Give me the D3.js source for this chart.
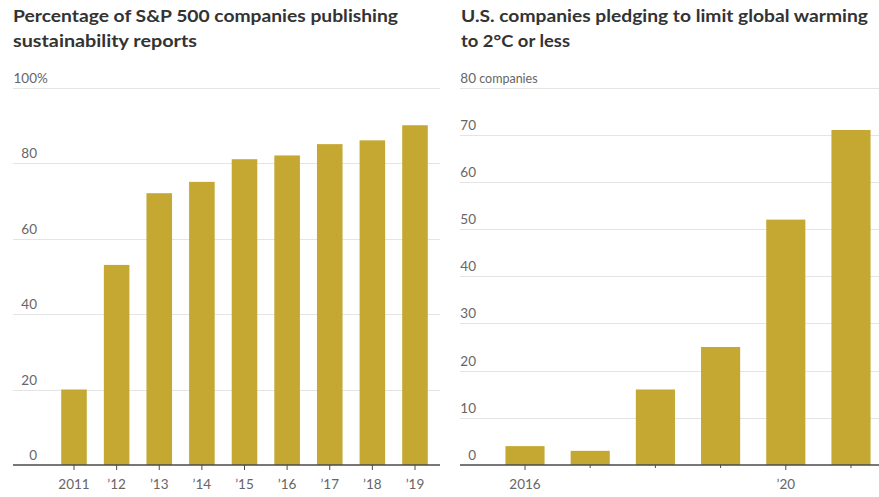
<!DOCTYPE html>
<html>
<head>
<meta charset="utf-8">
<script src="https://cdn.jsdelivr.net/npm/d3@7"></script>
<style>
  html, body { margin: 0; padding: 0; background: #fff; }
  svg { display: block; }
  .title { font-family: Lato, "Open Sans", sans-serif; font-weight: 700; font-size: 17px; fill: #333; }
  .tick-label { font-family: Lato, "Open Sans", sans-serif; font-size: 13.5px; fill: #666; white-space: pre; }
</style>
</head>
<body>
<svg id="chart" width="879" height="497"></svg>
<script>
// Left panel: share of S&P 500 companies publishing sustainability reports
const spYears = ["2011", "’12", "’13", "’14", "’15", "’16", "’17", "’18", "’19"];
const spShare = [20, 53, 72, 75, 81, 82, 85, 86, 90];
const spTicks = [0, 20, 40, 60, 80, 100];
const spTopSuffix = "%";

// Right panel: U.S. companies pledging to limit warming to 2°C or less
const pledgeYears = ["2016", "2017", "2018", "2019", "’20", "2021"];
const pledgeLabelled = ["2016", "’20"];
const pledgeCount = [4, 3, 16, 25, 52, 71];
const pledgeTicks = [0, 10, 20, 30, 40, 50, 60, 70, 80];
const pledgeTopSuffix = "\u00a0companies";

const barColor = "#c4a832";
const gridColor = "#e4e4e4";
const axisColor = "#4a4a4a";

const svg = d3.select("#chart");

function panel(cfg) {
  const g = svg.append("g");

  // Title lines
  cfg.title.forEach((line, i) => {
    g.append("text")
      .attr("class", "title")
      .attr("x", cfg.titleX)
      .attr("y", 22 + i * 25)
      .attr("textLength", line.w)
      .attr("lengthAdjust", "spacingAndGlyphs")
      .text(line.t);
  });

  const y = d3.scaleLinear().domain([0, cfg.yMax]).range([465, 87.5]);
  const x = d3.scaleBand()
    .domain(cfg.cats)
    .range(cfg.xRange)
    .paddingInner(0.4)
    .paddingOuter(0.2);

  // Horizontal gridlines (excluding baseline)
  g.append("g").selectAll("line")
    .data(cfg.ticks.filter(d => d > 0))
    .join("line")
    .attr("x1", cfg.gridX0).attr("x2", cfg.gridX1)
    .attr("y1", d => Math.round(y(d)) + 0.5)
    .attr("y2", d => Math.round(y(d)) + 0.5)
    .attr("stroke", gridColor)
    .attr("stroke-width", 1);

  // Y labels sit just above their gridlines
  const lab = g.append("g");
  lab.selectAll("text.num")
    .data(cfg.ticks)
    .join("text")
    .attr("class", "tick-label num")
    .attr("x", cfg.labelRight)
    .attr("y", d => y(d) - 5)
    .attr("text-anchor", "end")
    .text(d => d);
  lab.append("text")
    .attr("class", "tick-label")
    .attr("x", cfg.labelRight)
    .attr("y", y(cfg.yMax) - 5)
    .attr("text-anchor", "start")
    .style("font-size", cfg.suffixSize)
    .text(cfg.suffix);

  // Bars
  g.append("g").selectAll("rect")
    .data(cfg.values)
    .join("rect")
    .attr("x", (d, i) => x(cfg.cats[i]))
    .attr("width", x.bandwidth())
    .attr("y", d => y(d))
    .attr("height", d => y(0) - y(d))
    .attr("fill", barColor);

  // Baseline
  g.append("line")
    .attr("x1", cfg.gridX0).attr("x2", cfg.gridX1)
    .attr("y1", y(0)).attr("y2", y(0))
    .attr("stroke", axisColor)
    .attr("stroke-width", 1.5);

  // X ticks and labels
  const xt = g.append("g");
  xt.selectAll("line")
    .data(cfg.cats)
    .join("line")
    .attr("x1", d => x(d) + x.bandwidth() / 2)
    .attr("x2", d => x(d) + x.bandwidth() / 2)
    .attr("y1", y(0))
    .attr("y2", d => y(0) + (cfg.labelled.includes(d) ? 5 : 3))
    .attr("stroke", axisColor)
    .attr("stroke-width", 1);
  xt.selectAll("text")
    .data(cfg.cats.filter(d => cfg.labelled.includes(d)))
    .join("text")
    .attr("class", "tick-label")
    .attr("x", d => x(d) + x.bandwidth() / 2)
    .attr("y", 489)
    .attr("text-anchor", "middle")
    .text(d => d);
}

panel({
  title: [{ t: "Percentage of S&P 500 companies publishing", w: 385 },
          { t: "sustainability reports", w: 184 }],
  titleX: 13,
  cats: spYears,
  labelled: spYears,
  values: spShare,
  ticks: spTicks,
  yMax: 100,
  suffix: spTopSuffix,
  suffixSize: "13.5px",
  xRange: [52.7, 436.3],
  gridX0: 13, gridX1: 440,
  labelRight: 37
});

panel({
  title: [{ t: "U.S. companies pledging to limit global warming", w: 407 },
          { t: "to 2°C or less", w: 109 }],
  titleX: 461,
  cats: pledgeYears,
  labelled: pledgeLabelled,
  values: pledgeCount,
  ticks: pledgeTicks,
  yMax: 80,
  suffix: pledgeTopSuffix,
  suffixSize: "12.5px",
  xRange: [492.4, 883.6],
  gridX0: 460, gridX1: 879,
  labelRight: 476
});
</script>
</body>
</html>
